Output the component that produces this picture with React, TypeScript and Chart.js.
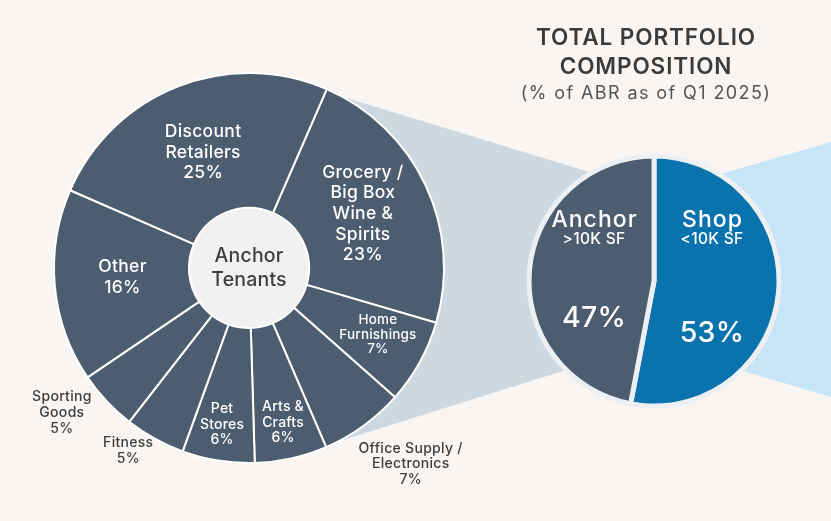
import React, { useEffect, useRef } from "react";
import { Chart, registerables } from "chart.js";

Chart.register(...registerables);

// ---------- DATA ----------
const anchorCategories = [
  "Grocery / Big Box Wine & Spirits",
  "Home Furnishings",
  "Office Supply / Electronics",
  "Arts & Crafts",
  "Pet Stores",
  "Fitness",
  "Sporting Goods",
  "Other",
  "Discount Retailers",
];
const anchorLabelLines = [
  ["Grocery /", "Big Box", "Wine &", "Spirits"],
  ["Home", "Furnishings"],
  ["Office Supply /", "Electronics"],
  ["Arts &", "Crafts"],
  ["Pet", "Stores"],
  ["Fitness"],
  ["Sporting", "Goods"],
  ["Other"],
  ["Discount", "Retailers"],
];
const anchorValues = [23, 7, 7, 6, 6, 5, 5, 16, 25];

const portfolioCategories = ["Shop", "Anchor"];
const portfolioSubtitles = ["<10K SF", ">10K SF"];
const portfolioValues = [53, 47];

const titleLines = ["TOTAL PORTFOLIO", "COMPOSITION"];
const subtitleText = "(% of ABR as of Q1 2025)";
const centerLines = ["Anchor", "Tenants"];

// ---------- STYLE ----------
const FONT = "Inter, 'Noto Sans', sans-serif";
const BG = "#f8f5f2";
const SLATE = "#4b5d6f";
const BLUE = "#0a72ad";
const DARK_TEXT = "#3e3e3e";

// label placement per slice: angle offset (deg) from slice middle, distance (px), font size, weight, line height, color, letter spacing
const anchorLabelStyle = [
  { angle: -0.4, dist: 126, size: 17.5, weight: 500, lh: 20.7, color: "#ffffff", ls: 0.3 },
  { angle: -1.6, dist: 145, size: 13.5, weight: 500, lh: 14.5, color: "#ffffff", ls: 0.2 },
  { angle: -3.6, dist: 254, size: 14, weight: 500, lh: 15.5, color: DARK_TEXT, ls: 0.3 },
  { angle: 0.1, dist: 158, size: 14, weight: 500, lh: 15.5, color: "#ffffff", ls: 0.2 },
  { angle: 0.7, dist: 159, size: 14, weight: 500, lh: 15.5, color: "#ffffff", ls: 0.2 },
  { angle: 4.6, dist: 219, size: 14, weight: 500, lh: 16, color: DARK_TEXT, ls: 0.3 },
  { angle: 5.3, dist: 237, size: 14, weight: 500, lh: 16, color: DARK_TEXT, ls: 0.3 },
  { angle: 1.0, dist: 127, size: 17.5, weight: 500, lh: 20.7, color: "#ffffff", ls: 0.3 },
  { angle: -0.2, dist: 124.5, size: 17.5, weight: 500, lh: 20.5, color: "#ffffff", ls: 0.3 },
];

const portfolioLabelStyle = [
  { angle: -5.4, dist: 58, nameDy: -61, subDy: -42, pctDy: 52 },
  { angle: -5.4, dist: 60, nameDy: -61, subDy: -42, pctDy: 37 },
];

function setLS(ctx: any, v: number) {
  if ("letterSpacing" in ctx) ctx.letterSpacing = `${v}px`;
}

function anchorPlugin() {
  return {
    id: "anchorLabels",
    beforeDatasetsDraw(chart: any) {
      const ctx = chart.ctx;
      const arc = chart.getDatasetMeta(0).data[0] as any;
      ctx.save();
      ctx.beginPath();
      ctx.arc(arc.x, arc.y, arc.innerRadius, 0, Math.PI * 2);
      ctx.fillStyle = "#f1f1f1";
      ctx.fill();
      ctx.restore();
    },
    afterDatasetsDraw(chart: any) {
      const ctx = chart.ctx;
      const meta = chart.getDatasetMeta(0);
      ctx.save();
      ctx.textAlign = "center";
      ctx.textBaseline = "middle";
      meta.data.forEach((arc: any, i: number) => {
        const st = anchorLabelStyle[i];
        const mid = (arc.startAngle + arc.endAngle) / 2 + (st.angle * Math.PI) / 180;
        const bx = arc.x + Math.cos(mid) * st.dist;
        const by = arc.y + Math.sin(mid) * st.dist;
        const lines = [...anchorLabelLines[i], `${anchorValues[i]}%`];
        const n = lines.length;
        ctx.fillStyle = st.color;
        ctx.font = `${st.weight} ${st.size}px ${FONT}`;
        setLS(ctx, st.ls);
        lines.forEach((t, k) => {
          ctx.fillText(t, bx + st.ls / 2, by + (k - (n - 1) / 2) * st.lh);
        });
      });
      // centre text
      const a0 = meta.data[0] as any;
      ctx.fillStyle = DARK_TEXT;
      ctx.font = `500 19.5px ${FONT}`;
      setLS(ctx, 0.2);
      centerLines.forEach((t, k) => {
        ctx.fillText(t, a0.x, a0.y + (k - 0.5) * 24);
      });
      ctx.restore();
    },
  };
}

function portfolioPlugin() {
  return {
    id: "portfolioLabels",
    afterDatasetsDraw(chart: any) {
      const ctx = chart.ctx;
      const meta = chart.getDatasetMeta(0);
      ctx.save();
      ctx.textAlign = "center";
      ctx.textBaseline = "middle";
      ctx.fillStyle = "#ffffff";
      meta.data.forEach((arc: any, i: number) => {
        const st = portfolioLabelStyle[i];
        const mid = (arc.startAngle + arc.endAngle) / 2 + (st.angle * Math.PI) / 180;
        const bx = arc.x + Math.cos(mid) * st.dist;
        const by = arc.y + Math.sin(mid) * st.dist;
        ctx.font = `500 23px ${FONT}`;
        setLS(ctx, 1);
        ctx.fillText(portfolioCategories[i], bx + 0.5, by + st.nameDy);
        ctx.font = `500 15.5px ${FONT}`;
        setLS(ctx, 0.3);
        ctx.fillText(portfolioSubtitles[i], bx, by + st.subDy);
        ctx.font = `500 28.5px ${FONT}`;
        setLS(ctx, 0.3);
        ctx.fillText(`${portfolioValues[i]}%`, bx, by + st.pctDy);
      });
      ctx.restore();
    },
  };
}

export default function App() {
  const bigRef = useRef<HTMLCanvasElement>(null);
  const pieRef = useRef<HTMLCanvasElement>(null);

  useEffect(() => {
    const big = new Chart(bigRef.current!, {
      type: "doughnut",
      data: {
        labels: anchorCategories,
        datasets: [
          {
            data: anchorValues,
            backgroundColor: SLATE,
            borderColor: "#ffffff",
            borderWidth: 2,
            hoverBorderWidth: 0,
            hoverOffset: 0,
          },
        ],
      },
      options: {
        responsive: false,
        maintainAspectRatio: false,
        animation: false,
        rotation: 23.5,
        radius: 195,
        cutout: "30.8%",
        layout: { padding: { top: 15, left: 0, right: 2, bottom: 0 } },
        events: [],
        plugins: { legend: { display: false }, tooltip: { enabled: false } },
      },
      plugins: [anchorPlugin()],
    } as any);

    const pie = new Chart(pieRef.current!, {
      type: "pie",
      data: {
        labels: portfolioCategories,
        datasets: [
          {
            data: portfolioValues,
            backgroundColor: [BLUE, SLATE],
            borderColor: "#edf0f2",
            borderWidth: 5,
            hoverBorderWidth: 0,
            hoverOffset: 0,
          },
        ],
      },
      options: {
        responsive: false,
        maintainAspectRatio: false,
        animation: false,
        rotation: 0,
        radius: 125,
        layout: { padding: 0 },
        events: [],
        plugins: { legend: { display: false }, tooltip: { enabled: false } },
      },
      plugins: [portfolioPlugin()],
    } as any);

    return () => {
      big.destroy();
      pie.destroy();
    };
  }, []);

  return (
    <div
      style={{
        position: "fixed",
        left: 0,
        top: 0,
        width: 831,
        height: 521,
        background: BG,
        overflow: "hidden",
        fontFamily: FONT,
      }}
    >
      <svg width={831} height={521} style={{ position: "absolute", left: 0, top: 0 }}>
        <polygon points="330,93 655,192 655,342 270,463 249,268" fill="#cdd8e1" />
        <polygon points="655,193 831,142 831,397 655,345" fill="#c7e5f7" />
      </svg>
      <canvas
        ref={bigRef}
        width={500}
        height={521}
        style={{ position: "absolute", left: 0, top: 0, width: 500, height: 521 }}
      />
      <canvas
        ref={pieRef}
        width={300}
        height={300}
        style={{ position: "absolute", left: 504, top: 131, width: 300, height: 300 }}
      />
      <div
        style={{
          position: "absolute",
          left: 496,
          top: 22,
          width: 300,
          textAlign: "center",
          color: "#3b3b3b",
        }}
      >
        {titleLines.map((t) => (
          <div key={t} style={{ fontSize: 22.5, fontWeight: 600, lineHeight: "29px", letterSpacing: 0.9 }}>
            {t}
          </div>
        ))}
        <div style={{ fontSize: 18, fontWeight: 400, lineHeight: "22px", color: "#555555", marginTop: 2, letterSpacing: 1.4 }}>
          {subtitleText}
        </div>
      </div>
    </div>
  );
}
